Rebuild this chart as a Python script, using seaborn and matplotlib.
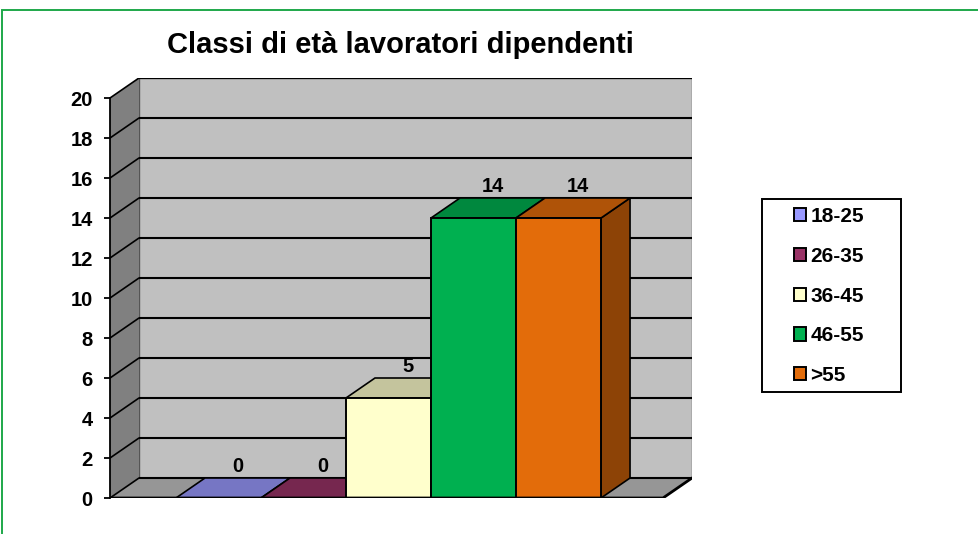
import numpy as np
import matplotlib
matplotlib.use("Agg")
import matplotlib.pyplot as plt
import seaborn as sns
from matplotlib.patches import Patch, Rectangle, Polygon

# dati
classi = ["18-25", "26-35", "36-45", "46-55", ">55"]
lavoratori = [0, 0, 5, 14, 14]
colori = ["#9999FF", "#993366", "#FFFFCC", "#00B050", "#E36C0A"]
titolo = "Classi di età lavoratori dipendenti"
yticks = list(range(0, 21, 2))

sns.set_style("white")
plt.rcParams["font.family"] = ["Liberation Sans", "DejaVu Sans"]
plt.rcParams["font.weight"] = "bold"
plt.rcParams["text.color"] = "black"
plt.rcParams["ytick.labelcolor"] = "black"


def shade(c, f):
    r, g, b = matplotlib.colors.to_rgb(c)
    return (r * f, g * f, b * f)


fig = plt.figure(figsize=(9.79, 5.34), dpi=100)
ax = fig.add_axes([110 / 979, 36 / 534, 582 / 979, 420 / 534])

# barre frontali
sns.barplot(x=classi, y=lavoratori, hue=classi, palette=colori, width=1.0,
            saturation=1, edgecolor="black", linewidth=1.4, legend=False,
            ax=ax, zorder=5)
bars = sorted(list(ax.patches), key=lambda p: p.get_x())

# profondità 3D (in unità dati)
dx = 29 / 85
dy = 1.0
x0, x1 = -1.276, 5.229
ymax = yticks[-1]

# pareti
ax.add_patch(Polygon([(x0 + dx, dy), (x1 + dx, dy), (x1 + dx, ymax + dy), (x0 + dx, ymax + dy)],
                     closed=True, facecolor="#C0C0C0", edgecolor="#555555", lw=1.0, zorder=0))
ax.add_patch(Polygon([(x0, 0), (x0 + dx, dy), (x0 + dx, ymax + dy), (x0, ymax)],
                     closed=True, facecolor="#808080", edgecolor="none", zorder=1))
ax.add_patch(Polygon([(x0, 0), (x1, 0), (x1 + dx, dy), (x0 + dx, dy)],
                     closed=True, facecolor="#969696", edgecolor="none", zorder=1))
for t in yticks:
    ax.plot([x0 + dx, x1 + dx], [t + dy, t + dy], color="black", lw=1.5, zorder=1.5,
            solid_capstyle="butt")
    ax.plot([x0, x0 + dx], [t, t + dy], color="black", lw=1.2, zorder=1.5)
ax.plot([x0, x1, x1 + dx], [0, 0, dy], color="black", lw=2, zorder=6)

# facce superiori e laterali
for p, v, c in zip(bars, lavoratori, colori):
    bx, bw = p.get_x(), p.get_width()
    top = [(bx, v), (bx + bw, v), (bx + bw + dx, v + dy), (bx + dx, v + dy)]
    side = [(bx + bw, 0), (bx + bw + dx, dy), (bx + bw + dx, v + dy), (bx + bw, v)]
    ax.add_patch(Polygon(side, closed=True, facecolor=shade(c, 0.62),
                         edgecolor="black", lw=1.2, zorder=3))
    ax.add_patch(Polygon(top, closed=True, facecolor=shade(c, 0.77),
                         edgecolor="black", lw=1.2, zorder=4))
    ax.text(bx + bw / 2 + dx / 2 + 0.06, v + dy + 0.55, str(v), ha="center", va="center",
            fontsize=14.5, fontweight="bold", color="black", zorder=7)

ax.set_xlim(x0, x1 + dx)
ax.set_ylim(0, ymax + dy)
ax.set_xticks([])
ax.set_yticks(yticks)
ax.set_yticklabels([str(t) for t in yticks], fontsize=14.5, fontweight="bold", color="black")
ax.set_xlabel("")
ax.set_ylabel("")
for s in ["top", "right", "bottom"]:
    ax.spines[s].set_visible(False)
ax.spines["left"].set_bounds(0, ymax)
ax.spines["left"].set_color("black")
ax.spines["left"].set_linewidth(1.3)
ax.spines["left"].set_zorder(6)
ax.tick_params(axis="y", left=True, length=4.5, width=1.3, color="black", pad=8)
ax.patch.set_visible(False)

fig.text(400 / 979, 1 - 45 / 534, titolo, ha="center", va="center",
         fontsize=21, fontweight="bold", color="black")

# legenda
handles = [Patch(facecolor=c, edgecolor="black", lw=1.4) for c in colori]
leg = fig.legend(handles, classi, loc="center", bbox_to_anchor=(829 / 979, 1 - 296 / 534),
                 frameon=False, handlelength=0.6, handleheight=0.6, handletextpad=0.2,
                 labelspacing=1.0, prop={"size": 15, "weight": "bold"})
for t in leg.get_texts():
    t.set_color("black")
fig.add_artist(Rectangle((762 / 979, 1 - 392 / 534), 139 / 979, 193 / 534,
                         transform=fig.transFigure, fill=False, edgecolor="black", lw=1.4))

# cornice verde
fig.add_artist(Rectangle((2.5 / 979, -0.2), 1.2, 1.2 - 9.5 / 534,
                         transform=fig.transFigure, fill=False, edgecolor="#1EA84A", lw=1.4))

fig.savefig("out.png", dpi=100)
